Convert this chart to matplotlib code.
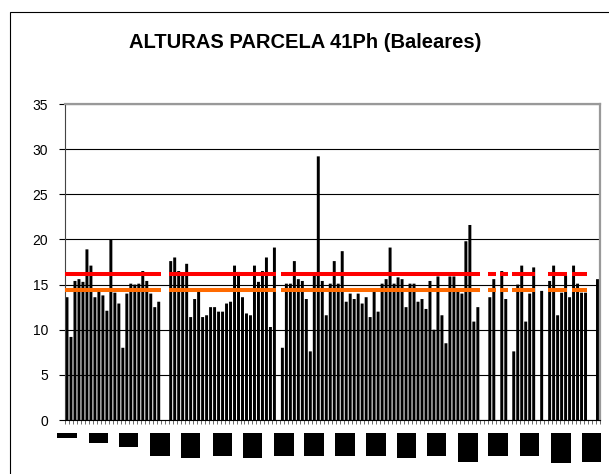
import numpy as np
import matplotlib
matplotlib.use("Agg")
import matplotlib.pyplot as plt
from matplotlib.patches import Rectangle
from matplotlib.transforms import IdentityTransform

plt.rcParams['font.family'] = ['Liberation Sans', 'DejaVu Sans']

title = "ALTURAS PARCELA 41Ph (Baleares)"

# tree heights per position (None = empty position)
heights = [
    13.6, 9.2, 15.4, 15.6, 15.3, 18.9, 17.1, 13.6, 14.2, 13.8,
    12.1, 20.0, 14.1, 12.9, 8.0, 14.0, 15.1, 15.0, 15.1, 16.5,
    15.4, 14.0, 12.5, 13.1, None, None, 17.6, 18.0, 16.5, 16.0,
    17.3, 11.4, 13.4, 14.2, 11.4, 11.6, 12.5, 12.5, 12.0, 12.0,
    12.9, 13.1, 17.1, 16.4, 13.6, 11.8, 11.6, 17.1, 15.3, 16.5,
    18.0, 10.3, 19.1, None, 8.0, 15.1, 15.1, 17.6, 15.6, 15.4,
    13.4, 7.6, 16.0, 29.2, 15.4, 11.6, 15.1, 17.6, 15.1, 18.7,
    13.1, 14.0, 13.4, 14.0, 12.9, 13.6, 11.4, 14.3, 12.0, 15.1,
    15.6, 19.1, 15.1, 15.8, 15.6, 12.5, 15.1, 15.1, 13.1, 13.4,
    12.3, 15.4, 10.0, 15.9, 11.6, 8.5, 15.9, 15.9, 14.3, 14.0,
    19.8, 21.6, 10.9, 12.5, None, None, 13.6, 15.6, None, 16.5,
    13.4, None, 7.6, 15.0, 17.1, 10.9, 14.0, 16.9, None, 14.3,
    None, 15.4, 17.1, 11.6, 14.1, 16.0, 13.6, 17.1, 15.1, 14.1,
    14.1, None, None, 15.6,
]

# reference levels and the position runs (1-based, inclusive) where they are drawn
upper_level = 16.2
lower_level = 14.4
level_runs = [(1, 24), (27, 53), (55, 104), (107, 108), (110, 111),
              (113, 118), (122, 126), (128, 131)]

yticks = [0, 5, 10, 15, 20, 25, 30, 35]

W, H = 609, 474
fig = plt.figure(figsize=(W / 100, H / 100), dpi=100)
fig.patch.set_facecolor('white')

# outer chart frame
fig.add_artist(Rectangle((9.5, -5), W + 10, H - 11.5 + 5, transform=IdentityTransform(),
                         fill=False, edgecolor='black', linewidth=0.8))

ax = fig.add_axes([65 / W, 1 - 420 / H, (599.5 - 65) / W, (420 - 104) / H])
n = len(heights)
x = np.arange(n)
vals = np.array([np.nan if v is None else v for v in heights], dtype=float)
bars = ax.bar(x, np.nan_to_num(vals), width=0.74, color='black', edgecolor='none',
              linewidth=0, zorder=2)
for b in bars:
    b.set_snap(False)

for s, e in level_runs:
    xs = [s - 1 - 0.45, e - 1 + 0.45]
    ax.plot(xs, [upper_level, upper_level], color='#ff0000', lw=2.9, solid_capstyle='butt', zorder=3)
    ax.plot(xs, [lower_level, lower_level], color='#ff6a00', lw=2.9, solid_capstyle='butt', zorder=3)

ax.set_xlim(-0.5, n - 0.5)
ax.set_ylim(0, 35)
ax.set_yticks(yticks)
ax.set_yticklabels([str(t) for t in yticks], fontsize=10)
ax.yaxis.grid(True, color='black', linewidth=0.8)
ax.set_axisbelow(True)
ax.set_xticks(np.arange(n + 1) - 0.5)
ax.set_xticklabels([])
ax.tick_params(axis='x', length=3, width=0.6, color='#555555', direction='out')
ax.tick_params(axis='y', length=4, width=0.8, direction='out', pad=8)
for side in ['top', 'right']:
    ax.spines[side].set_color('#999999')
    ax.spines[side].set_linewidth(1.6)
ax.spines['left'].set_color('#444444')
ax.spines['bottom'].set_color('black')

fig.text(305 / W, 1 - 42 / H, title, ha='center', va='center', fontsize=14.5, fontweight='bold')

# hidden category labels rendered as solid blocks in the reference
label_boxes = [(57, 77, 438), (89, 108, 443), (119, 138, 447), (150, 170, 456),
               (181, 200, 458), (213, 232, 456), (243, 262, 458), (274, 294, 456),
               (304, 324, 456), (335, 355, 456), (366, 386, 456), (397, 416, 458),
               (427, 446, 456), (458, 478, 462), (488, 508, 456), (520, 539, 456),
               (551, 571, 463), (582, 601, 462)]
for x0, x1, yb in label_boxes:
    fig.add_artist(Rectangle((x0, H - yb), x1 - x0, yb - 433, transform=IdentityTransform(),
                             facecolor='black', edgecolor='none'))

fig.savefig('out.png', dpi=100, facecolor='white')
